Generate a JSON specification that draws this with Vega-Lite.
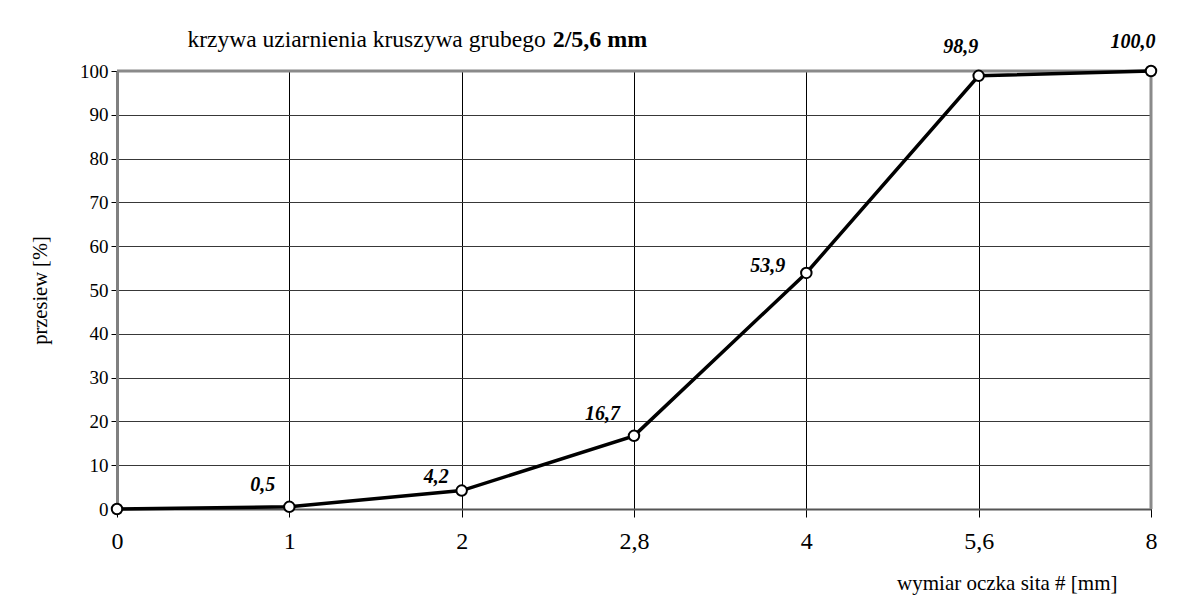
{
  "$schema": "https://vega.github.io/schema/vega-lite/v6.json",
  "width": 1034,
  "height": 438,
  "autosize": {"type": "none"},
  "padding": {"left": 117, "top": 71, "right": 43, "bottom": 96},
  "background": "white",
  "config": {
    "locale": {"number": {"decimal": ",", "thousands": " ", "grouping": [3], "currency": ["", " zł"]}},
    "view": {"stroke": null},
    "font": "Liberation Serif"
  },
  "datasets": {
    "krzywa": [
      {"sito": "0", "przesiew": 0},
      {"sito": "1", "przesiew": 0.5},
      {"sito": "2", "przesiew": 4.2},
      {"sito": "2,8", "przesiew": 16.7},
      {"sito": "4", "przesiew": 53.9},
      {"sito": "5,6", "przesiew": 98.9},
      {"sito": "8", "przesiew": 100.0}
    ],
    "tytul": [
      {"czesc": "krzywa uziarnienia kruszywa grubego", "gruby": false},
      {"czesc": "2/5,6 mm", "gruby": true}
    ]
  },
  "layer": [
    {
      "data": {"name": "krzywa"},
      "encoding": {
        "x": {
          "field": "sito",
          "type": "ordinal",
          "sort": null,
          "scale": {"type": "point", "padding": 0, "domain": ["0", "1", "2", "2,8", "4", "5,6", "8"]},
          "axis": {
            "title": "wymiar oczka sita # [mm]",
            "labelAngle": 0,
            "labelFont": "Liberation Serif",
            "labelFontSize": 24,
            "labelColor": "black",
            "labelPadding": 12,
            "tickSize": 8,
            "tickColor": "black",
            "tickWidth": 1,
            "domainColor": "#555555",
            "domainWidth": 2,
            "grid": true,
            "gridColor": "black",
            "gridWidth": 1,
            "titleFont": "Liberation Serif",
            "titleFontSize": 21,
            "titleFontWeight": "normal",
            "titleColor": "black",
            "titleAnchor": "end",
            "titleAlign": "right",
            "titleX": 1000,
            "titleY": 80,
            "titleBaseline": "alphabetic"
          }
        },
        "y": {
          "field": "przesiew",
          "type": "quantitative",
          "scale": {"domain": [0, 100], "nice": false},
          "axis": {
            "title": "przesiew [%]",
            "values": [0, 10, 20, 30, 40, 50, 60, 70, 80, 90, 100],
            "labelFont": "Liberation Serif",
            "labelFontSize": 19,
            "labelColor": "black",
            "labelPadding": 3,
            "tickSize": 6,
            "tickColor": "black",
            "tickWidth": 1,
            "domainColor": "#808080",
            "domainWidth": 3,
            "grid": true,
            "gridColor": "#383838",
            "gridWidth": 1,
            "titleFont": "Liberation Serif",
            "titleFontSize": 20.5,
            "titleFontWeight": "normal",
            "titleColor": "black",
            "titleAngle": -90,
            "titleX": -77,
            "titleY": 219,
            "titleAlign": "center",
            "titleBaseline": "middle"
          }
        }
      },
      "layer": [
        {
          "mark": {"type": "rule", "stroke": "#8a8a8a", "strokeWidth": 3},
          "transform": [{"filter": {"field": "sito", "equal": "8"}}],
          "encoding": {"y": {"datum": 0}, "y2": {"datum": 100}}
        },
        {
          "mark": {"type": "rule", "stroke": "#8a8a8a", "strokeWidth": 3},
          "transform": [{"filter": {"field": "sito", "equal": "8"}}],
          "encoding": {"x": {"datum": "0"}, "x2": {"datum": "8"}, "y": {"datum": 100}}
        },
        {
          "mark": {"type": "line", "color": "black", "strokeWidth": 3.5},
          "encoding": {}
        },
        {
          "mark": {"type": "point", "shape": "circle", "filled": true, "fill": "white", "stroke": "black", "strokeWidth": 2, "size": 110, "opacity": 1}
        },
        {
          "transform": [{"filter": {"field": "sito", "oneOf": ["1", "2,8"]}}],
          "mark": {"type": "text", "font": "Liberation Serif", "fontSize": 20, "fontStyle": "italic", "fontWeight": "bold", "color": "black", "align": "right", "baseline": "middle", "dx": -14, "dy": -22},
          "encoding": {"text": {"field": "przesiew", "type": "quantitative", "format": ".1f"}}
        },
        {
          "transform": [{"filter": {"field": "sito", "oneOf": ["2"]}}],
          "mark": {"type": "text", "font": "Liberation Serif", "fontSize": 20, "fontStyle": "italic", "fontWeight": "bold", "color": "black", "align": "right", "baseline": "middle", "dx": -13, "dy": -14},
          "encoding": {"text": {"field": "przesiew", "type": "quantitative", "format": ".1f"}}
        },
        {
          "transform": [{"filter": {"field": "sito", "oneOf": ["4"]}}],
          "mark": {"type": "text", "font": "Liberation Serif", "fontSize": 20, "fontStyle": "italic", "fontWeight": "bold", "color": "black", "align": "right", "baseline": "middle", "dx": -21, "dy": -7},
          "encoding": {"text": {"field": "przesiew", "type": "quantitative", "format": ".1f"}}
        },
        {
          "transform": [{"filter": {"field": "sito", "oneOf": ["5,6", "8"]}}],
          "mark": {"type": "text", "font": "Liberation Serif", "fontSize": 20, "fontStyle": "italic", "fontWeight": "bold", "color": "black", "align": "center", "baseline": "middle", "dx": -18, "dy": -29},
          "encoding": {"text": {"field": "przesiew", "type": "quantitative", "format": ".1f"}}
        }
      ]
    },
    {
      "data": {"name": "tytul"},
      "transform": [{"filter": "!datum.gruby"}],
      "mark": {"type": "text", "font": "Liberation Serif", "fontSize": 23.5, "color": "black", "align": "right", "baseline": "middle", "dx": 84},
      "encoding": {
        "x": {"datum": "2"},
        "y": {"datum": 107},
        "text": {"field": "czesc", "type": "nominal"}
      }
    },
    {
      "data": {"name": "tytul"},
      "transform": [{"filter": "datum.gruby"}],
      "mark": {"type": "text", "font": "Liberation Serif", "fontSize": 24, "fontWeight": "bold", "color": "black", "align": "left", "baseline": "middle", "dx": 91},
      "encoding": {
        "x": {"datum": "2"},
        "y": {"datum": 107},
        "text": {"field": "czesc", "type": "nominal"}
      }
    }
  ]
}
